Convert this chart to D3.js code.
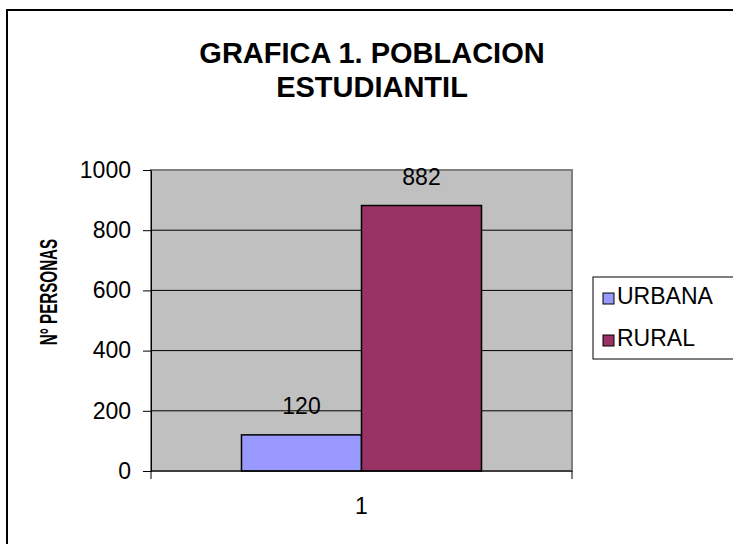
<!DOCTYPE html>
<html>
<head>
<meta charset="utf-8">
<script src="https://cdn.jsdelivr.net/npm/d3@7"></script>
<style>
  body { margin: 0; background: #fff; }
  text { font-family: "Liberation Sans", Arial, sans-serif; fill: #000; }
</style>
</head>
<body>
<svg id="chart" width="733" height="544"></svg>
<script>
// data
const categories = ["1"];
const seriesNames = ["URBANA", "RURAL"];
const seriesValues = [120, 882];
const seriesColors = ["#9999ff", "#993366"];
const yTicks = [0, 200, 400, 600, 800, 1000];
const titleLines = ["GRAFICA 1. POBLACION", "ESTUDIANTIL"];

const svg = d3.select("#chart");
const plot = { left: 151, top: 170, right: 572, bottom: 471 };
const fontStack = '"Liberation Sans", Arial, sans-serif';

// outer chart border (runs off the right and bottom edges)
svg.append("rect")
   .attr("x", 7).attr("y", 10)
   .attr("width", 740).attr("height", 545)
   .attr("fill", "#fff")
   .attr("stroke", "#000")
   .attr("stroke-width", 2);

let y = d3.scaleLinear()
          .domain([0, 1000])
          .range([plot.bottom, plot.top]);
let x0 = d3.scaleBand()
           .domain(categories)
           .range([plot.left, plot.right])
           .paddingOuter(0.377);
let x1 = d3.scaleBand()
           .domain(seriesNames)
           .range([0, x0.bandwidth()]);

// gray plot area
svg.append("rect")
   .attr("x", plot.left).attr("y", plot.top)
   .attr("width", plot.right - plot.left)
   .attr("height", plot.bottom - plot.top)
   .attr("fill", "#c0c0c0")
   .attr("stroke", "#808080")
   .attr("stroke-width", 2);

// gridlines
svg.append("g")
   .selectAll("line")
   .data(yTicks.filter(d => d > 0 && d < 1000))
   .join("line")
   .attr("x1", plot.left).attr("x2", plot.right)
   .attr("y1", d => y(d)).attr("y2", d => y(d))
   .attr("stroke", "#000")
   .attr("stroke-width", 1);

// y axis
let yAxis = svg.append("g")
               .attr("transform", `translate(${plot.left},0)`)
               .call(d3.axisLeft(y).tickValues(yTicks).tickFormat(d3.format("d"))
                       .tickSize(8).tickPadding(12).tickSizeOuter(0));
yAxis.select(".domain").attr("stroke", "#000");
yAxis.selectAll(".tick line").attr("stroke", "#000");
yAxis.selectAll(".tick text")
     .style("font-family", fontStack)
     .style("font-size", "23px")
     .attr("fill", "#000");

// bars
let rows = seriesNames.map((s, i) => ({ name: s, value: seriesValues[i], color: seriesColors[i], cat: categories[0] }));
svg.append("g")
   .selectAll("rect")
   .data(rows)
   .join("rect")
   .attr("x", d => x0(d.cat) + x1(d.name))
   .attr("y", d => y(d.value))
   .attr("width", x1.bandwidth())
   .attr("height", d => y(0) - y(d.value))
   .attr("fill", d => d.color)
   .attr("stroke", "#000")
   .attr("stroke-width", 1.5);

// data labels
svg.append("g")
   .selectAll("text")
   .data(rows)
   .join("text")
   .attr("x", d => x0(d.cat) + x1(d.name) + x1.bandwidth() / 2)
   .attr("y", d => y(d.value) - 21)
   .attr("text-anchor", "middle")
   .style("font-size", "23px")
   .text(d => d.value);

// x axis: line, ticks between categories, label in middle
svg.append("line")
   .attr("x1", plot.left).attr("x2", plot.right)
   .attr("y1", plot.bottom).attr("y2", plot.bottom)
   .attr("stroke", "#000").attr("stroke-width", 1);
svg.append("g")
   .selectAll("line")
   .data(x0.range())
   .join("line")
   .attr("x1", d => d).attr("x2", d => d)
   .attr("y1", plot.bottom).attr("y2", plot.bottom + 8)
   .attr("stroke", "#000");
let xAxis = svg.append("g")
               .attr("transform", `translate(0,${plot.bottom})`)
               .call(d3.axisBottom(x0).tickSize(0).tickPadding(27));
xAxis.select(".domain").remove();
xAxis.selectAll(".tick text")
     .style("font-family", fontStack)
     .style("font-size", "23px")
     .attr("fill", "#000");

// title
svg.append("g")
   .selectAll("text")
   .data(titleLines)
   .join("text")
   .attr("x", 372)
   .attr("y", (d, i) => 63 + i * 34)
   .attr("text-anchor", "middle")
   .style("font-size", "29px")
   .style("font-weight", "bold")
   .text(d => d);

// y axis title (squeezed along its length like the original)
svg.append("text")
   .attr("transform", "translate(57,292) rotate(-90) scale(0.66,1)")
   .attr("text-anchor", "middle")
   .style("font-size", "23px")
   .style("font-weight", "bold")
   .text("N° PERSONAS");

// legend
let legend = svg.append("g").attr("transform", "translate(593,277)");
legend.append("rect")
      .attr("x", 0).attr("y", 0)
      .attr("width", 160).attr("height", 82)
      .attr("fill", "#fff")
      .attr("stroke", "#000")
      .attr("stroke-width", 1);
let items = legend.selectAll("g.item")
                  .data(rows)
                  .join("g")
                  .attr("class", "item")
                  .attr("transform", (d, i) => `translate(0,${16 + i * 42})`);
items.append("rect")
     .attr("x", 10).attr("y", 0)
     .attr("width", 11).attr("height", 11)
     .attr("fill", d => d.color)
     .attr("stroke", "#000");
items.append("text")
     .attr("x", 24).attr("y", 11)
     .style("font-size", "23px")
     .text(d => d.name);
</script>
</body>
</html>
